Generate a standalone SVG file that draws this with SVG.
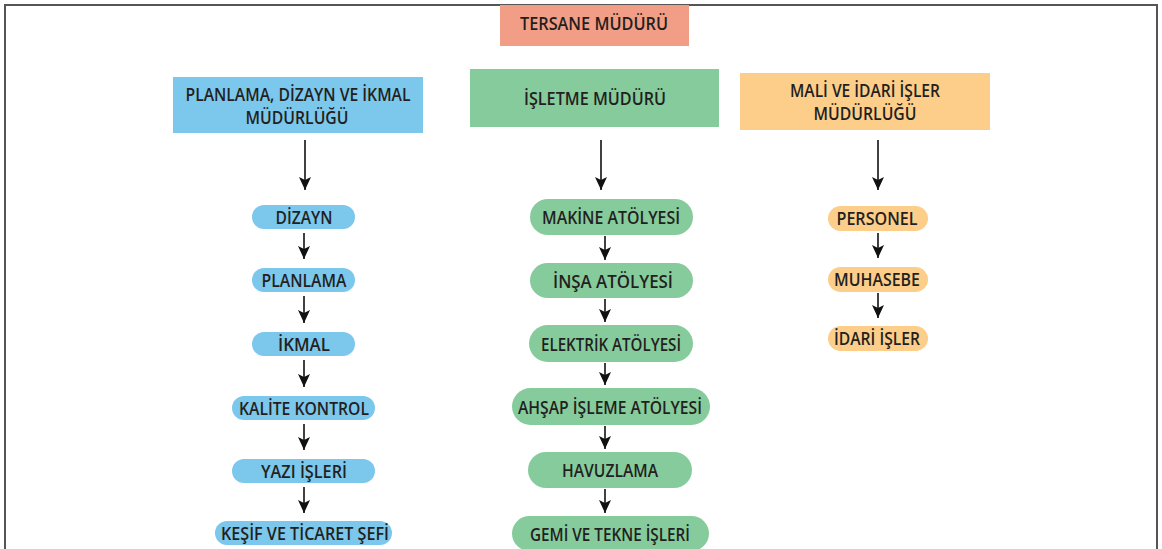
<svg xmlns="http://www.w3.org/2000/svg" width="1162" height="549" viewBox="0 0 1162 549">
<defs>
<marker id="ah" markerUnits="userSpaceOnUse" markerWidth="14" markerHeight="12" refX="13" refY="6" orient="auto" viewBox="0 0 14 12">
<path d="M0,0 L13,6 L0,12 L3,6 Z" fill="#111"/>
</marker>
<style>
text{font-family:"Open Sans","Noto Sans",sans-serif;font-weight:600;font-size:17.5px;fill:#231f20;text-anchor:middle}
.blue{fill:#7cc7ec}
.green{fill:#86cb9c}
.orange{fill:#fcce8a}
.salmon{fill:#f29d85}
.frame{fill:none;stroke:#555;stroke-width:2}
.conn line{stroke:#111;stroke-width:1.6;marker-end:url(#ah)}
</style>
</defs>
<rect width="1162" height="549" fill="#fff"/>
<path class="frame" d="M5,549 L5,5 L1157,5 L1157,549"/>

<g id="tersane"><rect class="salmon" x="500" y="5" width="189" height="41"/><text x="594" y="30" textLength="148" lengthAdjust="spacingAndGlyphs">TERSANE MÜDÜRÜ</text></g>

<g id="planlama-mud"><rect class="blue" x="173" y="77" width="250" height="56"/><text x="298" y="101" textLength="225" lengthAdjust="spacingAndGlyphs">PLANLAMA, DİZAYN VE İKMAL</text><text x="297" y="124" textLength="103" lengthAdjust="spacingAndGlyphs">MÜDÜRLÜĞÜ</text></g>
<g id="isletme-mud"><rect class="green" x="470" y="69" width="249" height="58"/><text x="595" y="105" textLength="142" lengthAdjust="spacingAndGlyphs">İŞLETME MÜDÜRÜ</text></g>
<g id="mali-mud"><rect class="orange" x="740" y="73" width="250" height="57"/><text x="865" y="97" textLength="150" lengthAdjust="spacingAndGlyphs">MALİ VE İDARİ İŞLER</text><text x="865" y="120" textLength="103" lengthAdjust="spacingAndGlyphs">MÜDÜRLÜĞÜ</text></g>

<g id="dizayn"><rect class="blue" x="252" y="205" width="103" height="24" rx="12"/><text x="304" y="223.5" textLength="57" lengthAdjust="spacingAndGlyphs">DİZAYN</text></g>
<g id="planlama"><rect class="blue" x="252" y="268" width="103" height="24" rx="12"/><text x="304" y="286.5" textLength="85" lengthAdjust="spacingAndGlyphs">PLANLAMA</text></g>
<g id="ikmal"><rect class="blue" x="252" y="332" width="103" height="24" rx="12"/><text x="304" y="350.5" textLength="52" lengthAdjust="spacingAndGlyphs">İKMAL</text></g>
<g id="kalite"><rect class="blue" x="232" y="396" width="143" height="24" rx="12"/><text x="304" y="414.5" textLength="130" lengthAdjust="spacingAndGlyphs">KALİTE KONTROL</text></g>
<g id="yazi"><rect class="blue" x="232" y="459" width="143" height="24" rx="12"/><text x="304" y="477.5" textLength="86" lengthAdjust="spacingAndGlyphs">YAZI İŞLERİ</text></g>
<g id="kesif"><rect class="blue" x="215" y="521" width="177" height="24" rx="12"/><text x="305" y="539.5" textLength="168" lengthAdjust="spacingAndGlyphs">KEŞİF VE TİCARET ŞEFİ</text></g>

<g id="makine"><rect class="green" x="530" y="199" width="163" height="36" rx="18"/><text x="611" y="223.5" textLength="138" lengthAdjust="spacingAndGlyphs">MAKİNE ATÖLYESİ</text></g>
<g id="insa"><rect class="green" x="530" y="263" width="163" height="35" rx="17.5"/><text x="613" y="287.5" textLength="120" lengthAdjust="spacingAndGlyphs">İNŞA ATÖLYESİ</text></g>
<g id="elektrik"><rect class="green" x="529" y="325" width="164" height="37" rx="18.5"/><text x="611" y="350.5" textLength="140" lengthAdjust="spacingAndGlyphs">ELEKTRİK ATÖLYESİ</text></g>
<g id="ahsap"><rect class="green" x="512" y="388" width="198" height="37" rx="18.5"/><text x="610" y="413.5" textLength="184" lengthAdjust="spacingAndGlyphs">AHŞAP İŞLEME ATÖLYESİ</text></g>
<g id="havuzlama"><rect class="green" x="528" y="452" width="164" height="36" rx="18"/><text x="610" y="476.5" textLength="96" lengthAdjust="spacingAndGlyphs">HAVUZLAMA</text></g>
<g id="gemi"><rect class="green" x="512" y="516" width="197" height="35" rx="17.5"/><text x="610" y="540.5" textLength="160" lengthAdjust="spacingAndGlyphs">GEMİ VE TEKNE İŞLERİ</text></g>

<g id="personel"><rect class="orange" x="828" y="206" width="100" height="25" rx="12.5"/><text x="877" y="224.5" textLength="81" lengthAdjust="spacingAndGlyphs">PERSONEL</text></g>
<g id="muhasebe"><rect class="orange" x="828" y="267" width="100" height="25" rx="12.5"/><text x="877" y="285.5" textLength="86" lengthAdjust="spacingAndGlyphs">MUHASEBE</text></g>
<g id="idari"><rect class="orange" x="828" y="326" width="100" height="25" rx="12.5"/><text x="877" y="344.5" textLength="86" lengthAdjust="spacingAndGlyphs">İDARİ İŞLER</text></g>

<g id="connectors" class="conn">
<line x1="305" y1="140" x2="305" y2="190"/>
<line x1="601" y1="140" x2="601" y2="190"/>
<line x1="878" y1="140" x2="878" y2="190"/>
<line x1="304" y1="233" x2="304" y2="259"/>
<line x1="304" y1="296" x2="304" y2="323"/>
<line x1="304" y1="360" x2="304" y2="387"/>
<line x1="304" y1="424" x2="304" y2="450"/>
<line x1="304" y1="487" x2="304" y2="513"/>
<line x1="605" y1="236" x2="605" y2="260"/>
<line x1="605" y1="299" x2="605" y2="322"/>
<line x1="605" y1="363" x2="605" y2="385"/>
<line x1="605" y1="426" x2="605" y2="449"/>
<line x1="605" y1="489" x2="605" y2="513"/>
<line x1="878" y1="233" x2="878" y2="258"/>
<line x1="878" y1="293" x2="878" y2="318"/>
</g>
</svg>
